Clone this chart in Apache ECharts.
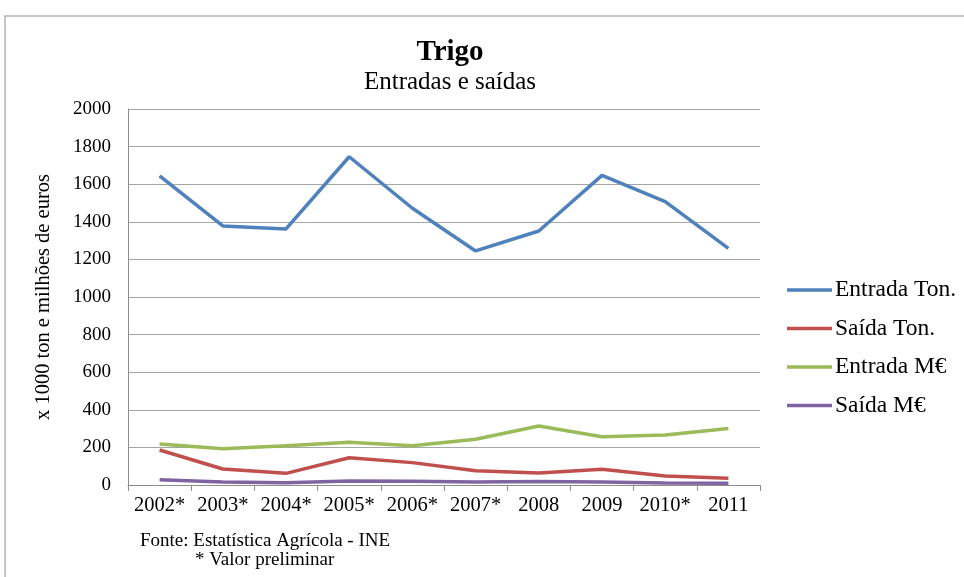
<!DOCTYPE html>
<html>
<head>
<meta charset="utf-8">
<script src="https://cdn.jsdelivr.net/npm/echarts@6/dist/echarts.min.js"></script>
<style>
  html, body { margin: 0; padding: 0; background: #ffffff; }
  #chart { width: 964px; height: 577px; }
</style>
</head>
<body>
<div id="chart"></div>
<script>
// Wheat imports/exports, Portugal (x 1000 t and M€)
const years = ['2002*', '2003*', '2004*', '2005*', '2006*', '2007*', '2008', '2009', '2010*', '2011'];
const entradaTon = [1644, 1378, 1362, 1746, 1472, 1245, 1351, 1647, 1507, 1259];
const saidaTon   = [186, 85, 62, 145, 119, 76, 64, 84, 48, 36];
const entradaMEur = [218, 193, 209, 227, 209, 243, 314, 257, 266, 301];
const saidaMEur   = [28, 16, 12, 21, 20, 16, 18, 16, 11, 9];
const yTicks = [0, 200, 400, 600, 800, 1000, 1200, 1400, 1600, 1800, 2000];

const serif = '"Liberation Serif", "DejaVu Serif", serif';
const colors = ['#4F81BD', '#C0504D', '#9BBB59', '#8064A2'];
const names = ['Entrada Ton.', 'Saída Ton.', 'Entrada M€', 'Saída M€'];
const values = [entradaTon, saidaTon, entradaMEur, saidaMEur];

const chart = echarts.init(document.getElementById('chart'), null, { renderer: 'canvas' });

chart.setOption({
  backgroundColor: '#ffffff',
  animation: false,
  color: colors,
  title: [
    {
      text: 'Trigo',
      left: 445, top: 33, textAlign: 'center',
      textStyle: { fontFamily: serif, fontSize: 29, fontWeight: 'bold', color: '#000' }
    },
    {
      text: 'Entradas e saídas',
      left: 445, top: 65, textAlign: 'center',
      textStyle: { fontFamily: serif, fontSize: 25, fontWeight: 'normal', color: '#000' }
    }
  ],
  legend: {
    orient: 'vertical',
    left: 782, top: 273,
    itemWidth: 45, itemHeight: 3.5, itemGap: 14.5,
    icon: 'rect',
    textStyle: { fontFamily: serif, fontSize: 23.5, lineHeight: 23, color: '#000', padding: [0, 0, 0, -2] },
    data: names
  },
  grid: { left: 128, right: 204, top: 109, bottom: 92, containLabel: false },
  xAxis: {
    type: 'category',
    data: years,
    boundaryGap: true,
    axisLine: { show: true, lineStyle: { color: '#8c8c8c', width: 1 } },
    axisTick: { show: true, length: 6, alignWithLabel: false, lineStyle: { color: '#8c8c8c' } },
    axisLabel: { fontFamily: serif, fontSize: 20.5, color: '#000', margin: 10, interval: 0 }
  },
  yAxis: {
    type: 'value',
    min: yTicks[0], max: yTicks[yTicks.length - 1], interval: 200,
    name: 'x 1000 ton e milhões de euros',
    nameLocation: 'middle',
    nameGap: 74,
    nameRotate: 90,
    nameTextStyle: { fontFamily: serif, fontSize: 20.5, color: '#000' },
    axisLine: { show: true, lineStyle: { color: '#8c8c8c', width: 1 } },
    axisTick: { show: false },
    axisLabel: { fontFamily: serif, fontSize: 19, color: '#000', margin: 17, formatter: v => String(v) },
    splitLine: { lineStyle: { color: '#a6a6a6', width: 1 } }
  },
  series: names.map((n, i) => ({
    name: n,
    type: 'line',
    data: values[i],
    symbol: 'none',
    lineStyle: { width: 3.5, color: colors[i] },
    itemStyle: { color: colors[i] },
    z: 10 - i
  })),
  graphic: [
    {
      type: 'polyline',
      shape: { points: [[5, 600], [5, 16], [970, 16]] },
      style: { stroke: '#b3b3b3', lineWidth: 1.5, fill: null }
    },
    {
      type: 'text',
      left: 140, top: 532,
      style: { text: 'Fonte: Estatística Agrícola - INE', font: '19px ' + serif, fill: '#000' }
    },
    {
      type: 'text',
      left: 195, top: 551,
      style: { text: '* Valor preliminar', font: '19px ' + serif, fill: '#000' }
    }
  ]
});
</script>
</body>
</html>
